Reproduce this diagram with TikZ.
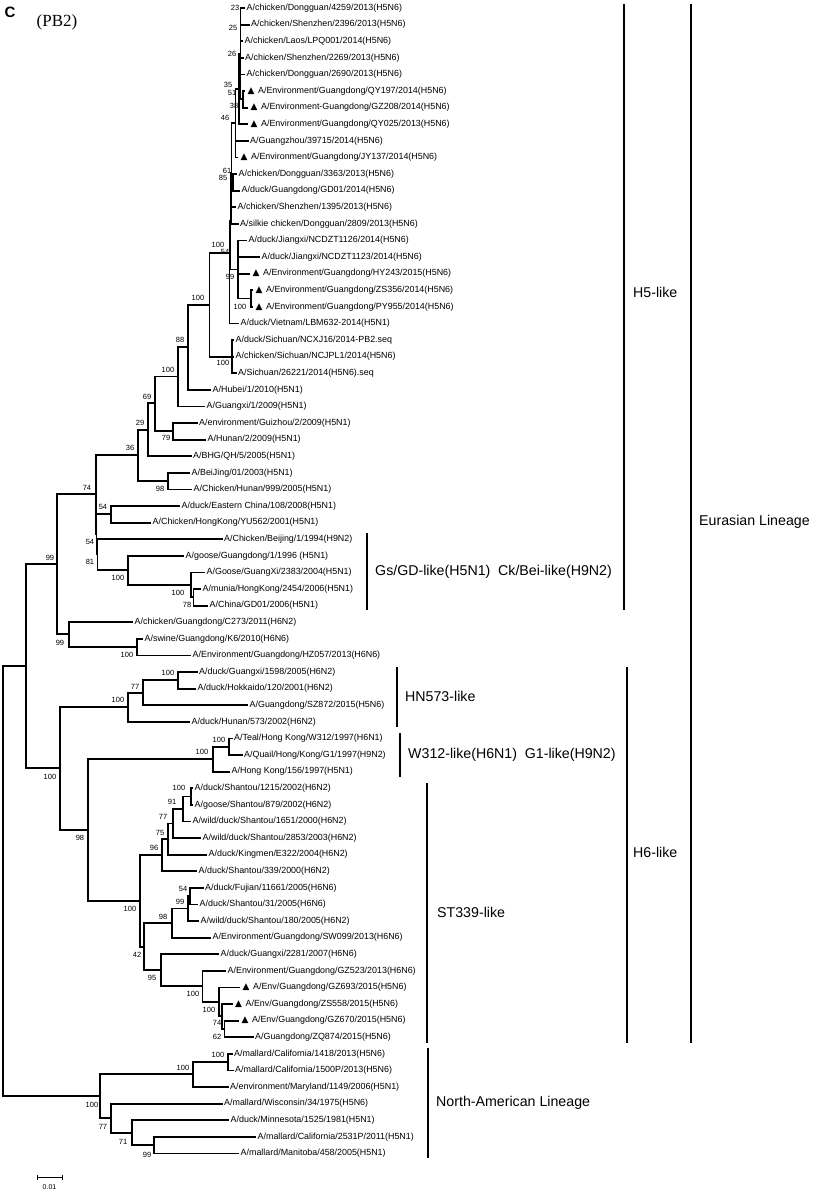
\documentclass[tikz,border=0pt]{standalone}
\usepackage{fontspec}
\setmainfont{Liberation Sans}
\newfontfamily\serifpb{Liberation Serif}
\newfontfamily\djv{DejaVu Sans}
\newcommand\leaffont{\fontsize{8.9bp}{10bp}\selectfont}
\newcommand\bsfont{\fontsize{7.5bp}{8bp}\selectfont}
\newcommand\grpfont{\fontsize{14.2bp}{16bp}\selectfont}
\newcommand\trimk{\hspace{1bp}{\djv\fontsize{9bp}{10bp}\selectfont ▲}\hspace{3.5bp}}
\newcommand\leafx[4]{\coordinate (#1) at (#3,{8+16.6*(#2-1)}); \node[leaf] (#1t) at (#1) {#4};}
\newcommand\cladex[4]{\coordinate (#1) at (#2,#3); \foreach \ch in {#4} {\draw[br] (#1) |- (\ch);}}
\newcommand\bootx[4]{\node[bsl] (#1) at (#2,#3) {#4};}
\newcommand\brackx[6]{\coordinate (#1a) at (#2,#3); \coordinate (#1b) at (#2,#4); \draw[brk] (#1a) -- (#1b); \node[grp] (#1l) at (#5) {#6};}
\begin{document}
\begin{tikzpicture}[x=1bp,y=-1bp,
  br/.style={line width=1.8bp},
  brk/.style={line width=1.8bp},
  leaf/.style={anchor=west,font=\leaffont,inner sep=1.5bp},
  bsl/.style={font=\bsfont,inner sep=0pt},
  grp/.style={anchor=west,font=\grpfont,inner sep=0pt}]
\fill[white] (0,0) rectangle (813,1191);
\useasboundingbox (0,0) rectangle (813,1191);
% title
\node[font=\fontsize{15bp}{16bp}\selectfont\bfseries,inner sep=0pt] (lblC) at (10,12) {C};
\node[font=\serifpb\fontsize{17bp}{18bp}\selectfont,inner sep=0pt] (lblPB) at (57,22) {(PB2)};
% leaves
\leafx{L1}{1}{245}{A/chicken/Dongguan/4259/2013(H5N6)}
\leafx{L2}{2}{249.5}{A/chicken/Shenzhen/2396/2013(H5N6)}
\leafx{L3}{3}{243}{A/chicken/Laos/LPQ001/2014(H5N6)}
\leafx{L4}{4}{243.5}{A/chicken/Shenzhen/2269/2013(H5N6)}
\leafx{L5}{5}{245}{A/chicken/Dongguan/2690/2013(H5N6)}
\leafx{L6}{6}{245}{\trimk A/Environment/Guangdong/QY197/2014(H5N6)}
\leafx{L7}{7}{248}{\trimk A/Environment-Guangdong/GZ208/2014(H5N6)}
\leafx{L8}{8}{248}{\trimk A/Environment/Guangdong/QY025/2013(H5N6)}
\leafx{L9}{9}{248.5}{A/Guangzhou/39715/2014(H5N6)}
\leafx{L10}{10}{238}{\trimk A/Environment/Guangdong/JY137/2014(H5N6)}
\leafx{L11}{11}{237}{A/chicken/Dongguan/3363/2013(H5N6)}
\leafx{L12}{12}{240}{A/duck/Guangdong/GD01/2014(H5N6)}
\leafx{L13}{13}{236}{A/chicken/Shenzhen/1395/2013(H5N6)}
\leafx{L14}{14}{238.5}{A/silkie chicken/Dongguan/2809/2013(H5N6)}
\leafx{L15}{15}{247}{A/duck/Jiangxi/NCDZT1126/2014(H5N6)}
\leafx{L16}{16}{260}{A/duck/Jiangxi/NCDZT1123/2014(H5N6)}
\leafx{L17}{17}{250}{\trimk A/Environment/Guangdong/HY243/2015(H5N6)}
\leafx{L18}{18}{253}{\trimk A/Environment/Guangdong/ZS356/2014(H5N6)}
\leafx{L19}{19}{253}{\trimk A/Environment/Guangdong/PY955/2014(H5N6)}
\leafx{L20}{20}{239}{A/duck/Vietnam/LBM632-2014(H5N1)}
\leafx{L21}{21}{234}{A/duck/Sichuan/NCXJ16/2014-PB2.seq}
\leafx{L22}{22}{234}{A/chicken/Sichuan/NCJPL1/2014(H5N6)}
\leafx{L23}{23}{236.5}{A/Sichuan/26221/2014(H5N6).seq}
\leafx{L24}{24}{211}{A/Hubei/1/2010(H5N1)}
\leafx{L25}{25}{205}{A/Guangxi/1/2009(H5N1)}
\leafx{L26}{26}{197.5}{A/environment/Guizhou/2/2009(H5N1)}
\leafx{L27}{27}{206}{A/Hunan/2/2009(H5N1)}
\leafx{L28}{28}{191.5}{A/BHG/QH/5/2005(H5N1)}
\leafx{L29}{29}{190}{A/BeiJing/01/2003(H5N1)}
\leafx{L30}{30}{192}{A/Chicken/Hunan/999/2005(H5N1)}
\leafx{L31}{31}{180}{A/duck/Eastern China/108/2008(H5N1)}
\leafx{L32}{32}{151}{A/Chicken/HongKong/YU562/2001(H5N1)}
\leafx{L33}{33}{222.5}{A/Chicken/Beijing/1/1994(H9N2)}
\leafx{L34}{34}{184}{A/goose/Guangdong/1/1996 (H5N1)}
\leafx{L35}{35}{205}{A/Goose/GuangXi/2383/2004(H5N1)}
\leafx{L36}{36}{201}{A/munia/HongKong/2454/2006(H5N1)}
\leafx{L37}{37}{208}{A/China/GD01/2006(H5N1)}
\leafx{L38}{38}{133}{A/chicken/Guangdong/C273/2011(H6N2)}
\leafx{L39}{39}{143}{A/swine/Guangdong/K6/2010(H6N6)}
\leafx{L40}{40}{191}{A/Environment/Guangdong/HZ057/2013(H6N6)}
\leafx{L41}{41}{197.5}{A/duck/Guangxi/1598/2005(H6N2)}
\leafx{L42}{42}{196}{A/duck/Hokkaido/120/2001(H6N2)}
\leafx{L43}{43}{248}{A/Guangdong/SZ872/2015(H5N6)}
\leafx{L44}{44}{190}{A/duck/Hunan/573/2002(H6N2)}
\leafx{L45}{45}{232.5}{A/Teal/Hong Kong/W312/1997(H6N1)}
\leafx{L46}{46}{242.5}{A/Quail/Hong/Kong/G1/1997(H9N2)}
\leafx{L47}{47}{230}{A/Hong Kong/156/1997(H5N1)}
\leafx{L48}{48}{193}{A/duck/Shantou/1215/2002(H6N2)}
\leafx{L49}{49}{193}{A/goose/Shantou/879/2002(H6N2)}
\leafx{L50}{50}{191}{A/wild/duck/Shantou/1651/2000(H6N2)}
\leafx{L51}{51}{201}{A/wild/duck/Shantou/2853/2003(H6N2)}
\leafx{L52}{52}{207}{A/duck/Kingmen/E322/2004(H6N2)}
\leafx{L53}{53}{197}{A/duck/Shantou/339/2000(H6N2)}
\leafx{L54}{54}{203.5}{A/duck/Fujian/11661/2005(H6N6)}
\leafx{L55}{55}{198}{A/duck/Shantou/31/2005(H6N6)}
\leafx{L56}{56}{199}{A/wild/duck/Shantou/180/2005(H6N2)}
\leafx{L57}{57}{211}{A/Environment/Guangdong/SW099/2013(H6N6)}
\leafx{L58}{58}{219}{A/duck/Guangxi/2281/2007(H6N6)}
\leafx{L59}{59}{226}{A/Environment/Guangdong/GZ523/2013(H6N6)}
\leafx{L60}{60}{240}{\trimk A/Env/Guangdong/GZ693/2015(H5N6)}
\leafx{L61}{61}{232.5}{\trimk A/Env/Guangdong/ZS558/2015(H5N6)}
\leafx{L62}{62}{239}{\trimk A/Env/Guangdong/GZ670/2015(H5N6)}
\leafx{L63}{63}{253.5}{A/Guangdong/ZQ874/2015(H5N6)}
\leafx{L64}{64}{232.5}{A/mallard/California/1418/2013(H5N6)}
\leafx{L65}{65}{233.5}{A/mallard/California/1500P/2013(H5N6)}
\leafx{L66}{66}{228.5}{A/environment/Maryland/1149/2006(H5N1)}
\leafx{L67}{67}{222.5}{A/mallard/Wisconsin/34/1975(H5N6)}
\leafx{L68}{68}{229}{A/duck/Minnesota/1525/1981(H5N1)}
\leafx{L69}{69}{256}{A/mallard/California/2531P/2011(H5N1)}
\leafx{L70}{70}{239}{A/mallard/Manitoba/458/2005(H5N1)}
% internal nodes
\cladex{P7}{243}{99.3}{L6,L7}
\cladex{C1}{240.5}{53.7}{L1,L2,L3,L4,L5,P7}
\cladex{P5}{239}{89}{C1,L8}
\cladex{P4}{235.5}{123}{P5,L9,L10}
\cladex{P1112}{233}{182.3}{L11,L12}
\cladex{P3}{231.5}{173}{P4,P1112,L13,L14}
\cladex{PZP}{251}{298.5}{L18,L19}
\cladex{PJX}{238}{269.5}{L15,L16,L17,PZP}
\cladex{P2}{230.5}{221}{P3,PJX}
\cladex{P1}{229.5}{253}{P2,L20}
\cladex{Sich}{232}{356.6}{L21,L22,L23}
\cladex{P0}{209.5}{305}{P1,Sich}
\cladex{N88}{188}{347}{P0,L24}
\cladex{Nb100}{178}{376.5}{N88,L25}
\cladex{N79}{173}{431}{L26,L27}
\cladex{N69}{155}{403}{Nb100,N79}
\cladex{N29}{148}{429.6}{N69,L28}
\cladex{N98a}{168}{481}{L29,L30}
\cladex{N36}{138}{455}{N29,N98a}
\cladex{N54a}{111}{514}{L31,L32}
\cladex{N78}{193.5}{597}{L36,L37}
\cladex{Nc100}{191}{585}{L35,N78}
\cladex{Nd100}{128}{570}{L34,Nc100}
\cladex{N81}{97.5}{554}{L33,Nd100}
\cladex{N54b}{96.5}{534}{N54a,N81}
\cladex{N74}{96}{494}{N36,N54b}
\cladex{Ne100}{137}{647}{L39,L40}
\cladex{N99b}{69}{634}{L38,Ne100}
\cladex{N99a}{57}{564}{N74,N99b}
\cladex{Nf100}{178}{680}{L41,L42}
\cladex{N77a}{143}{693}{Nf100,L43}
\cladex{Ng100}{128}{707}{N77a,L44}
\cladex{Nh100}{229}{746.7}{L45,L46}
\cladex{Ni100}{213}{759}{Nh100,L47}
\cladex{Nj100}{191}{796.5}{L48,L49}
\cladex{N91}{183}{809}{Nj100,L50}
\cladex{N77b}{173}{823.5}{N91,L51}
\cladex{N75}{168}{839}{N77b,L52}
\cladex{N96}{162}{855}{N75,L53}
\cladex{N54c}{190}{896}{L54,L55}
\cladex{N99c}{188}{908.5}{N54c,L56}
\cladex{N98b}{172}{923}{N99c,L57}
\cladex{N62}{224.5}{1029}{L62,L63}
\cladex{N74b}{222}{1016}{L61,N62}
\cladex{Nk100}{219}{1002}{L60,N74b}
\cladex{Nl100}{202.5}{986}{L59,Nk100}
\cladex{N95}{161}{970}{L58,Nl100}
\cladex{N42}{144}{947}{N98b,N95}
\cladex{Nm100}{140}{901}{N96,N42}
\cladex{N98c}{88}{830}{Ni100,Nm100}
\cladex{Nn100}{60}{768}{Ng100,N98c}
\cladex{NEur}{26}{666}{N99a,Nn100}
\cladex{No100}{228}{1062}{L64,L65}
\cladex{Np100}{193}{1074}{No100,L66}
\cladex{N99d}{154}{1145}{L69,L70}
\cladex{N71}{132}{1133}{L68,N99d}
\cladex{N77c}{111}{1118}{L67,N71}
\cladex{Nq100}{100}{1096}{Np100,N77c}
\cladex{root}{3}{881}{NEur,Nq100}
% bootstrap values
\bootx{b1}{235}{8}{23}
\bootx{b2}{233}{28}{25}
\bootx{b3}{232}{54}{26}
\bootx{b4}{228}{85}{35}
\bootx{b5}{232}{93}{51}
\bootx{b6}{234}{106}{38}
\bootx{b7}{225}{118}{46}
\bootx{b8}{227}{171}{61}
\bootx{b9}{223}{178}{85}
\bootx{b10}{218}{245}{100}
\bootx{b11}{225}{252}{54}
\bootx{b12}{230}{277}{99}
\bootx{b13}{240}{307}{100}
\bootx{b14}{198}{298}{100}
\bootx{b15}{223}{363}{100}
\bootx{b16}{180}{340}{88}
\bootx{b17}{168}{370}{100}
\bootx{b18}{147}{397}{69}
\bootx{b19}{166}{438}{79}
\bootx{b20}{140}{423}{29}
\bootx{b21}{130}{448}{36}
\bootx{b22}{160}{489}{98}
\bootx{b23}{87}{488}{74}
\bootx{b24}{103}{507}{54}
\bootx{b25}{90}{542}{54}
\bootx{b26}{90}{562}{81}
\bootx{b27}{118}{578}{100}
\bootx{b28}{178}{593}{100}
\bootx{b29}{187}{605}{78}
\bootx{b30}{50}{558}{99}
\bootx{b31}{60}{643}{99}
\bootx{b32}{127}{655}{100}
\bootx{b33}{168}{673}{100}
\bootx{b34}{135}{687}{77}
\bootx{b35}{118}{700}{100}
\bootx{b36}{219}{740}{100}
\bootx{b37}{202}{752}{100}
\bootx{b38}{50}{777}{100}
\bootx{b39}{179}{788}{100}
\bootx{b40}{172}{802}{91}
\bootx{b41}{163}{817}{77}
\bootx{b42}{160}{833}{75}
\bootx{b43}{154}{848}{96}
\bootx{b44}{80}{838}{98}
\bootx{b45}{183}{889}{54}
\bootx{b46}{180}{902}{99}
\bootx{b47}{163}{917}{98}
\bootx{b48}{130}{909}{100}
\bootx{b49}{137}{955}{42}
\bootx{b50}{152}{978}{95}
\bootx{b51}{193}{994}{100}
\bootx{b52}{209}{1010}{100}
\bootx{b53}{217}{1023}{74}
\bootx{b54}{217}{1037}{62}
\bootx{b55}{218}{1055}{100}
\bootx{b56}{183}{1068}{100}
\bootx{b57}{92}{1105}{100}
\bootx{b58}{103}{1127}{77}
\bootx{b59}{123}{1142}{71}
\bootx{b60}{147}{1155}{99}
% group brackets
\brackx{gH5}{624}{4}{610}{633,292}{H5-like}
\brackx{gEur}{691}{4}{1043}{699,522}{Eurasian Lineage}
\brackx{gH6}{627}{667}{1043}{633,852}{H6-like}
\brackx{gGs}{367}{533}{610}{375,572}{Gs/GD-like(H5N1)\hspace{7.8bp}Ck/Bei-like(H9N2)}
\brackx{gHN}{397}{667}{727}{405,696}{HN573-like}
\brackx{gW}{400}{733}{777}{408,755}{W312-like(H6N1)\hspace{7.8bp}G1-like(H9N2)}
\brackx{gST}{427}{783}{1043}{437,912}{ST339-like}
\brackx{gNA}{428}{1048}{1158}{436,1103}{North-American Lineage}
% scale bar
\coordinate (sb1) at (37,1177);
\coordinate (sb2) at (62,1177);
\draw[line width=0.8bp] (sb1) -- (sb2);
\draw[line width=0.8bp] (sb1) ++(0,-2.5) -- ++(0,5);
\draw[line width=0.8bp] (sb2) ++(0,-2.5) -- ++(0,5);
\node[bsl,font=\fontsize{7bp}{8bp}\selectfont] (sbl) at (49.5,1187) {0.01};
\end{tikzpicture}
\end{document}
